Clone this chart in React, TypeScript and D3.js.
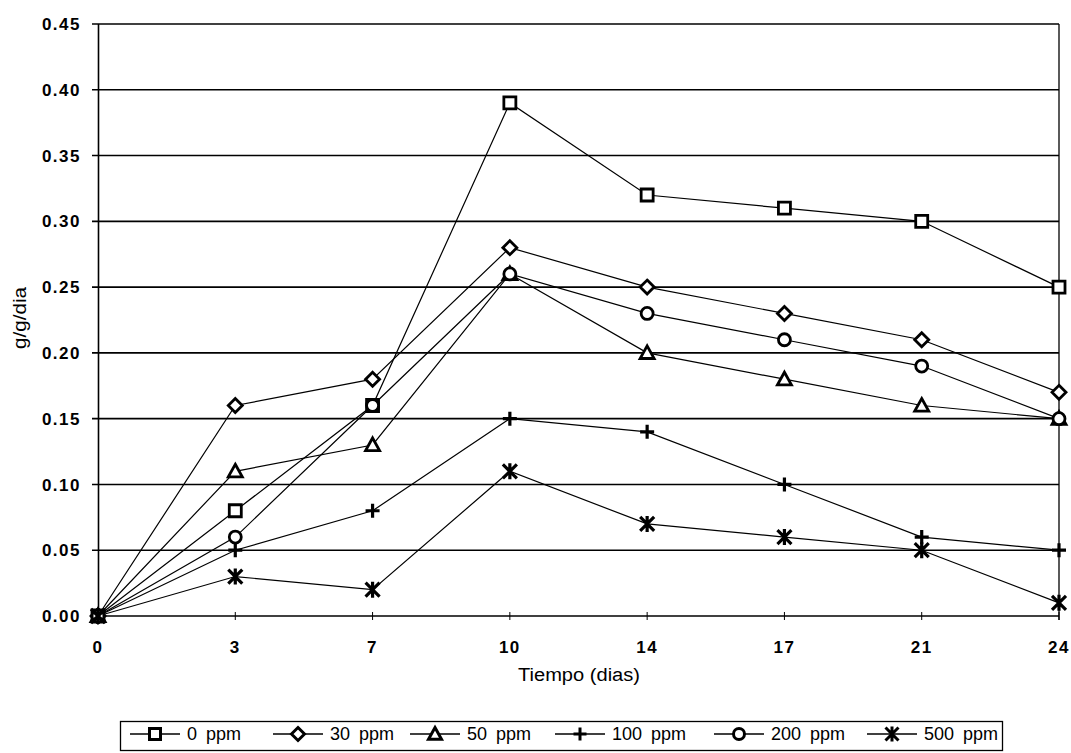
import {useEffect, useRef} from 'react';
import * as d3 from 'd3';

const days = ['0', '3', '7', '10', '14', '17', '21', '24'];
const ppm0 = [0, 0.08, 0.16, 0.39, 0.32, 0.31, 0.3, 0.25];
const ppm30 = [0, 0.16, 0.18, 0.28, 0.25, 0.23, 0.21, 0.17];
const ppm50 = [0, 0.11, 0.13, 0.26, 0.2, 0.18, 0.16, 0.15];
const ppm100 = [0, 0.05, 0.08, 0.15, 0.14, 0.1, 0.06, 0.05];
const ppm200 = [0, 0.06, 0.16, 0.26, 0.23, 0.21, 0.19, 0.15];
const ppm500 = [0, 0.03, 0.02, 0.11, 0.07, 0.06, 0.05, 0.01];
const yTicks = [0, 0.05, 0.1, 0.15, 0.2, 0.25, 0.3, 0.35, 0.4, 0.45];

const seriesNames = ['0 ppm', '30 ppm', '50 ppm', '100 ppm', '200 ppm', '500 ppm'];
const seriesValues = [ppm0, ppm30, ppm50, ppm100, ppm200, ppm500];
const seriesMarkers = ['square', 'diamond', 'triangle', 'plus', 'circle', 'star'];

const W = 1071;
const H = 753;
const FONT = 'Arial, "Liberation Sans", sans-serif';

// path for the marker shapes, r = half size
const markerPath = (type: string, r: number) => {
  switch (type) {
    case 'square':
      return `M${-r},${-r}H${r}V${r}H${-r}Z`;
    case 'diamond':
      return `M0,${-r}L${r},0L0,${r}L${-r},0Z`;
    case 'triangle':
      return `M0,${-r}L${r},${r * 0.8}L${-r},${r * 0.8}Z`;
    case 'plus':
      return `M${-r},0H${r}M0,${-r}V${r}`;
    case 'circle':
      return d3.symbol().type(d3.symbolCircle).size(Math.PI * r * r)()!;
    case 'star':
      return `M${-r},${-r}L${r},${r}M${r},${-r}L${-r},${r}M0,${-r - 1}V${r + 1}`;
    default:
      return '';
  }
};

const markerSize: Record<string, number> = {
  square: 6,
  diamond: 7,
  triangle: 7,
  plus: 7,
  circle: 6,
  star: 7,
};

const App = () => {
  const ref = useRef<SVGSVGElement>(null);

  useEffect(() => {
    const svg = d3.select(ref.current);
    svg.selectAll('*').remove();

    const x = d3.scalePoint().domain(days).range([98, 1059]);
    const y = d3.scaleLinear().domain([0, 0.45]).range([616, 24]);

    // horizontal grid
    svg
      .append('g')
      .selectAll('line')
      .data(yTicks)
      .enter()
      .append('line')
      .attr('x1', 92)
      .attr('x2', 1059)
      .attr('y1', (d) => y(d))
      .attr('y2', (d) => y(d))
      .attr('stroke', '#000')
      .attr('stroke-width', 1.6);

    // axes frame
    svg
      .append('line')
      .attr('x1', 98.5)
      .attr('x2', 98.5)
      .attr('y1', y(0.45))
      .attr('y2', y(0))
      .attr('stroke', '#000')
      .attr('stroke-width', 1.6);
    svg
      .append('line')
      .attr('x1', 1059)
      .attr('x2', 1059)
      .attr('y1', y(0.45))
      .attr('y2', y(0) + 4)
      .attr('stroke', '#000')
      .attr('stroke-width', 1.3);

    // x tick marks
    svg
      .append('g')
      .selectAll('line')
      .data(days)
      .enter()
      .append('line')
      .attr('x1', (d) => x(d)!)
      .attr('x2', (d) => x(d)!)
      .attr('y1', y(0) - 4)
      .attr('y2', y(0) + 4)
      .attr('stroke', '#000')
      .attr('stroke-width', 1);

    // y labels
    svg
      .append('g')
      .selectAll('text')
      .data(yTicks)
      .enter()
      .append('text')
      .attr('x', 81)
      .attr('y', (d) => y(d))
      .attr('dy', '0.36em')
      .attr('text-anchor', 'end')
      .attr('font-family', FONT)
      .attr('font-weight', 'bold')
      .attr('font-size', 17)
      .attr('letter-spacing', 1.5)
      .text((d) => d.toFixed(2));

    // x labels
    svg
      .append('g')
      .selectAll('text')
      .data(days)
      .enter()
      .append('text')
      .attr('x', (d) => x(d)!)
      .attr('y', 647)
      .attr('dy', '0.36em')
      .attr('text-anchor', 'middle')
      .attr('font-family', FONT)
      .attr('font-weight', 'bold')
      .attr('font-size', 17)
      .attr('letter-spacing', 1.5)
      .text((d) => d);

    // axis titles
    svg
      .append('text')
      .attr('x', 579)
      .attr('y', 675)
      .attr('dy', '0.36em')
      .attr('text-anchor', 'middle')
      .attr('font-family', FONT)
      .attr('font-size', 18)
      .attr('textLength', 122)
      .attr('lengthAdjust', 'spacingAndGlyphs')
      .text('Tiempo (dias)');

    svg
      .append('text')
      .attr('transform', 'translate(20,318) rotate(-90)')
      .attr('dy', '0.36em')
      .attr('text-anchor', 'middle')
      .attr('font-family', FONT)
      .attr('font-size', 18)
      .attr('textLength', 62)
      .attr('lengthAdjust', 'spacingAndGlyphs')
      .text('g/g/dia');

    const line = d3
      .line<number>()
      .x((_, i) => x(days[i])!)
      .y((d) => y(d));

    // series lines
    svg
      .append('g')
      .selectAll('path')
      .data(seriesValues)
      .enter()
      .append('path')
      .attr('d', (d) => line(d))
      .attr('fill', 'none')
      .attr('stroke', '#000')
      .attr('stroke-width', 1.2);

    // markers
    seriesValues.forEach((vals, si) => {
      const type = seriesMarkers[si];
      const r = markerSize[type];
      const open = type !== 'plus' && type !== 'star';
      svg
        .append('g')
        .selectAll('path')
        .data(vals)
        .enter()
        .append('path')
        .attr('transform', (d, i) => `translate(${x(days[i])},${y(d)})`)
        .attr('d', markerPath(type, r))
        .attr('fill', open ? '#fff' : 'none')
        .attr('stroke', '#000')
        .attr('stroke-width', open ? 2.8 : 3.2);
    });

    // legend
    const legendX = [130, 273, 410, 555, 714, 867];
    const ly = 734;
    svg
      .append('rect')
      .attr('x', 120.5)
      .attr('y', 721.5)
      .attr('width', 882)
      .attr('height', 29)
      .attr('fill', '#fff')
      .attr('stroke', '#000')
      .attr('stroke-width', 1.3);

    const items = svg
      .append('g')
      .selectAll('g')
      .data(seriesNames)
      .enter()
      .append('g')
      .attr('transform', (_, i) => `translate(${legendX[i]},${ly})`);

    items
      .append('line')
      .attr('x1', 0)
      .attr('x2', 50)
      .attr('stroke', '#000')
      .attr('stroke-width', 1.3);

    items
      .append('path')
      .attr('transform', 'translate(25,0)')
      .attr('d', (_, i) => markerPath(seriesMarkers[i], markerSize[seriesMarkers[i]] - 0.5))
      .attr('fill', (_, i) =>
        seriesMarkers[i] === 'plus' || seriesMarkers[i] === 'star' ? 'none' : '#fff',
      )
      .attr('stroke', '#000')
      .attr('stroke-width', 3);

    items
      .append('text')
      .attr('x', 57)
      .attr('dy', '0.36em')
      .attr('font-family', FONT)
      .attr('font-size', 18)
      .attr('word-spacing', 4)
      .text((d) => d);
  }, []);

  return (
    <svg
      ref={ref}
      width={W}
      height={H}
      style={{position: 'absolute', left: 0, top: 0, background: '#fff'}}
    />
  );
};

export default App;
